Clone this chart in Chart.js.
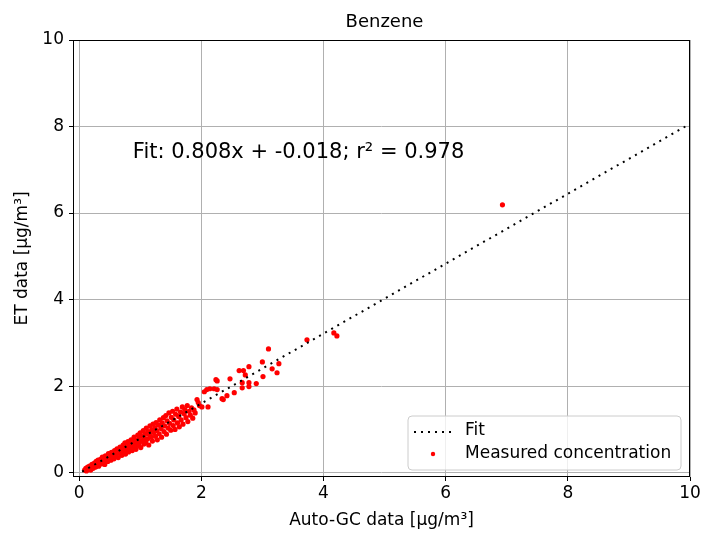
<!DOCTYPE html>
<html>
<head>
<meta charset="utf-8">
<script src="https://cdn.jsdelivr.net/npm/chart.js@4.4.0/dist/chart.umd.min.js"></script>
<style>
  body { margin: 0; background: #fff; }
  #wrap { width: 709px; height: 540px; }
</style>
</head>
<body>
<div id="wrap"><canvas id="benzeneChart" width="709" height="540"></canvas></div>
<script>
// measured concentrations (Auto-GC vs ET)
const autoGC = [
  0.09, 0.11, 0.12, 0.14, 0.15, 0.17, 0.18, 0.19, 0.21, 0.22,
  0.23, 0.25, 0.26, 0.27, 0.28, 0.30, 0.31, 0.32, 0.33, 0.35,
  0.36, 0.37, 0.38, 0.40, 0.41, 0.42, 0.43, 0.45, 0.46, 0.47,
  0.48, 0.50, 0.51, 0.52, 0.53, 0.54, 0.56, 0.57, 0.58, 0.59,
  0.60, 0.62, 0.63, 0.64, 0.65, 0.67, 0.68, 0.69, 0.70, 0.72,
  0.73, 0.74, 0.75, 0.76, 0.78, 0.79, 0.80, 0.81, 0.82, 0.84,
  0.85, 0.86, 0.87, 0.88, 0.90, 0.91, 0.92, 0.93, 0.94, 0.96,
  0.97, 0.98, 0.99, 1.00, 1.01, 1.02, 1.04, 1.05, 1.06, 1.07,
  1.08, 1.09, 1.10, 1.12, 1.13, 1.14, 1.15, 1.16, 1.18, 1.19,
  1.20, 1.21, 1.22, 1.24, 1.25, 1.26, 1.27, 1.28, 1.30, 1.31,
  1.32, 1.34, 1.35, 1.36, 1.38, 1.39, 1.40, 1.42, 1.43, 1.44,
  1.46, 1.47, 1.48, 1.50, 1.51, 1.53, 1.54, 1.55, 1.57, 1.58,
  1.60, 1.61, 1.63, 1.64, 1.66, 1.67, 1.69, 1.70, 1.72, 1.73,
  1.75, 1.77, 1.78, 1.80, 1.82, 1.84, 1.86, 1.88, 1.90, 1.93,
  1.95, 1.97, 2.01, 2.05, 2.09, 2.11, 2.14, 2.21, 2.24, 2.26,
  2.26, 2.34, 2.36, 2.42, 2.47, 2.54, 2.62, 2.67, 2.67, 2.69,
  2.72, 2.78, 2.78, 2.78, 2.90, 3.00, 3.01, 3.10, 3.16, 3.24,
  3.27, 3.73, 4.17, 4.22, 6.93
];
const etData = [
  0.06, 0.10, 0.04, 0.13, 0.08, 0.15, 0.11, 0.06, 0.19, 0.14,
  0.10, 0.22, 0.17, 0.13, 0.26, 0.20, 0.29, 0.15, 0.24, 0.31,
  0.20, 0.27, 0.36, 0.25, 0.33, 0.19, 0.39, 0.30, 0.36, 0.26,
  0.44, 0.33, 0.41, 0.29, 0.47, 0.38, 0.44, 0.32, 0.51, 0.40,
  0.37, 0.55, 0.46, 0.35, 0.50, 0.59, 0.43, 0.53, 0.40, 0.64,
  0.55, 0.47, 0.69, 0.43, 0.60, 0.52, 0.72, 0.48, 0.66, 0.58,
  0.76, 0.63, 0.51, 0.70, 0.82, 0.60, 0.74, 0.54, 0.68, 0.87,
  0.77, 0.62, 0.71, 0.92, 0.58, 0.84, 0.73, 0.97, 0.66, 0.80,
  0.90, 0.70, 1.03, 0.78, 0.95, 0.64, 0.88, 1.08, 0.82, 0.99,
  0.73, 1.12, 0.93, 1.04, 0.84, 1.16, 0.97, 0.76, 1.10, 0.90,
  1.22, 1.02, 0.82, 1.15, 1.27, 0.95, 1.08, 1.32, 0.89, 1.20,
  1.03, 1.38, 1.14, 0.98, 1.28, 1.42, 1.09, 1.22, 1.00, 1.35,
  1.47, 1.15, 1.30, 1.06, 1.40, 1.22, 1.52, 1.12, 1.36, 1.46,
  1.27, 1.55, 1.18, 1.42, 1.33, 1.50, 1.26, 1.45, 1.38, 1.69,
  1.62, 1.55, 1.52, 1.87, 1.92, 1.52, 1.94, 1.94, 2.15, 1.92,
  2.12, 1.71, 1.69, 1.78, 2.17, 1.85, 2.36, 2.08, 1.96, 2.36,
  2.26, 2.45, 2.08, 1.99, 2.06, 2.56, 2.22, 2.86, 2.40, 2.31,
  2.52, 3.07, 3.23, 3.16, 6.19
];

// linear fit shown in the chart
const fitSlope = 0.808;
const fitIntercept = -0.018;
const fitR2 = 0.978;
const fitRange = [0.05, 10];

const tickValues = [0, 2, 4, 6, 8, 10];
const tickLabels = ['0', '2', '4', '6', '8', '10'];

const fitLabel = 'Fit: ' + fitSlope.toFixed(3) + 'x + ' + fitIntercept.toFixed(3) + '; r\u00B2 = ' + fitR2.toFixed(3);

Chart.defaults.font.family = '"DejaVu Sans", sans-serif';
Chart.defaults.color = '#000';

// frame, title, fit text and legend drawn matplotlib-style
const decorations = {
  id: 'decorations',
  afterDraw(chart) {
    const ctx = chart.ctx;
    const a = chart.chartArea;
    const xs = chart.scales.x, ys = chart.scales.y;
    ctx.save();

    // spines
    ctx.strokeStyle = '#000';
    ctx.lineWidth = 1;
    ctx.strokeRect(a.left + 0.5, a.top + 0.5, a.right - a.left - 1, a.bottom - a.top - 1);

    // title
    ctx.fillStyle = '#000';
    ctx.font = '18px "DejaVu Sans"';
    ctx.textAlign = 'center';
    ctx.textBaseline = 'middle';
    ctx.fillText('Benzene', (a.left + a.right) / 2 + 3, 22);

    // fit text
    ctx.font = '21px "DejaVu Sans"';
    ctx.textAlign = 'left';
    ctx.fillText(fitLabel, xs.getPixelForValue(0.88), ys.getPixelForValue(7.39));

    // legend
    const bx = 408, by = 416, bw = 273, bh = 54, r = 4;
    ctx.beginPath();
    ctx.moveTo(bx + r, by);
    ctx.arcTo(bx + bw, by, bx + bw, by + bh, r);
    ctx.arcTo(bx + bw, by + bh, bx, by + bh, r);
    ctx.arcTo(bx, by + bh, bx, by, r);
    ctx.arcTo(bx, by, bx + bw, by, r);
    ctx.closePath();
    ctx.fillStyle = 'rgba(255,255,255,0.8)';
    ctx.fill();
    ctx.strokeStyle = '#cccccc';
    ctx.stroke();

    const ds = chart.data.datasets;
    ctx.strokeStyle = ds[0].borderColor;
    ctx.lineWidth = 2;
    ctx.setLineDash([2, 5]);
    ctx.beginPath();
    ctx.moveTo(414, 432);
    ctx.lineTo(452, 432);
    ctx.stroke();
    ctx.setLineDash([]);

    ctx.fillStyle = ds[1].backgroundColor;
    ctx.beginPath();
    ctx.arc(433, 454, 2.2, 0, Math.PI * 2);
    ctx.fill();

    ctx.fillStyle = '#000';
    ctx.font = '17px "DejaVu Sans"';
    ctx.fillText(ds[0].label, 465, 431);
    ctx.fillText(ds[1].label, 465, 454);

    ctx.restore();
  }
};

new Chart(document.getElementById('benzeneChart').getContext('2d'), {
  type: 'scatter',
  data: {
    datasets: [
      {
        type: 'line',
        label: 'Fit',
        data: fitRange.map(x => ({ x: x, y: fitSlope * x + fitIntercept })),
        borderColor: '#000',
        borderWidth: 2,
        borderDash: [2, 5],
        pointRadius: 0,
        fill: false
      },
      {
        label: 'Measured concentration',
        data: autoGC.map((x, i) => ({ x: x, y: etData[i] })),
        backgroundColor: '#ff0000',
        borderWidth: 0,
        pointRadius: 2.6
      }
    ]
  },
  options: {
    responsive: false,
    animation: false,
    devicePixelRatio: 1,
    layout: { padding: { top: 40, right: 19, left: 0, bottom: 0 } },
    plugins: {
      legend: { display: false },
      title: { display: false },
      tooltip: { enabled: false }
    },
    scales: {
      x: {
        type: 'linear',
        min: -0.1,
        max: 10,
        afterFit: s => { s.height = 63; },
        afterBuildTicks: s => { s.ticks = tickValues.map(v => ({ value: v })); },
        ticks: {
          font: { size: 17 },
          padding: 2,
          maxRotation: 0,
          callback: (v, i) => tickLabels[i]
        },
        grid: { color: '#b0b0b0', tickColor: '#000', tickLength: 4 },
        border: { display: false },
        title: { display: true, text: 'Auto-GC data [\u03BCg/m\u00B3]', font: { size: 17 }, padding: { top: 0, bottom: 9 } }
      },
      y: {
        type: 'linear',
        min: -0.1,
        max: 10,
        afterFit: s => { s.width = 73; },
        afterBuildTicks: s => { s.ticks = tickValues.map(v => ({ value: v })); },
        ticks: {
          font: { size: 17 },
          padding: 5,
          callback: (v, i) => tickLabels[i]
        },
        grid: { color: '#b0b0b0', tickColor: '#000', tickLength: 4 },
        border: { display: false },
        title: { display: true, text: 'ET data [\u03BCg/m\u00B3]', font: { size: 17 }, padding: { top: 12, bottom: 0 } }
      }
    }
  },
  plugins: [decorations]
});
</script>
</body>
</html>
